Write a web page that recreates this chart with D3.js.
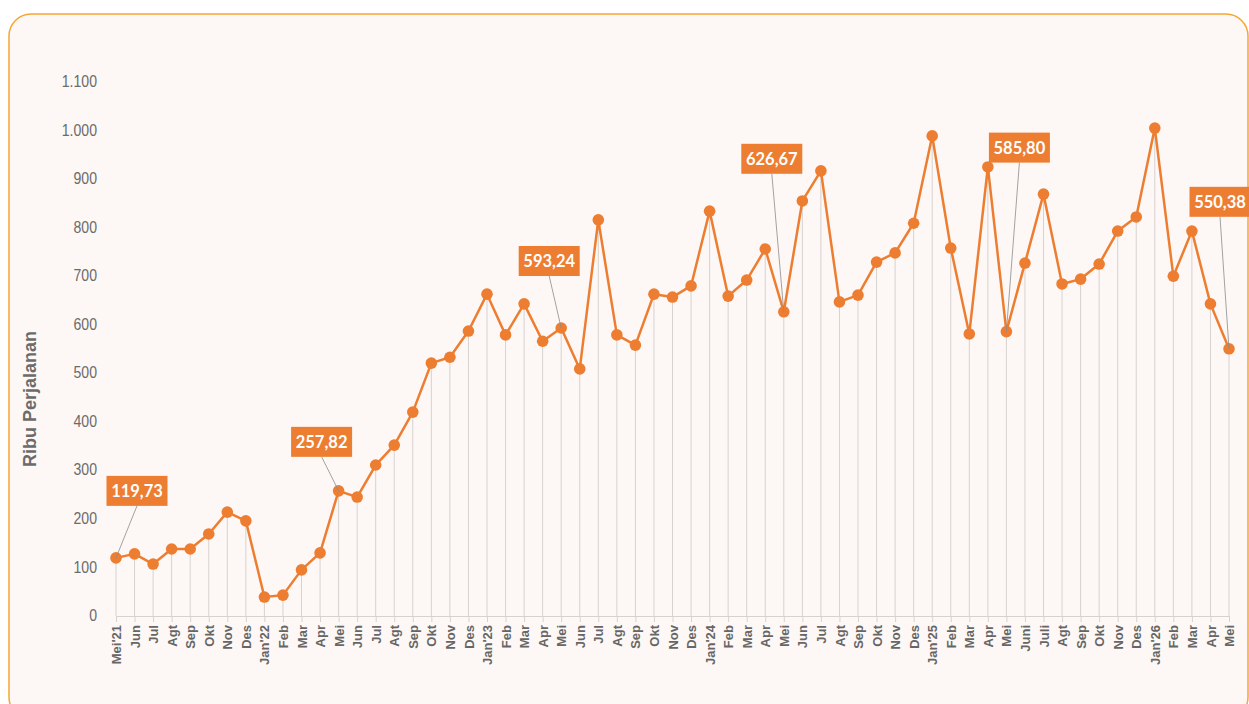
<!DOCTYPE html>
<html>
<head>
<meta charset="utf-8">
<script src="https://cdn.jsdelivr.net/npm/d3@7"></script>
<style>
    body { margin: 0; background: #ffffff; }
    svg { display: block; }
</style>
</head>
<body>
<svg></svg>
<script>
let months = [
    "Mei'21", "Jun", "Jul", "Agt", "Sep", "Okt", "Nov", "Des",
    "Jan'22", "Feb", "Mar", "Apr", "Mei", "Jun", "Jul", "Agt", "Sep", "Okt", "Nov", "Des",
    "Jan'23", "Feb", "Mar", "Apr", "Mei", "Jun", "Jul", "Agt", "Sep", "Okt", "Nov", "Des",
    "Jan'24", "Feb", "Mar", "Apr", "Mei", "Jun", "Jul", "Agt", "Sep", "Okt", "Nov", "Des",
    "Jan'25", "Feb", "Mar", "Apr", "Mei", "Juni", "Juli", "Agt", "Sep", "Okt", "Nov", "Des",
    "Jan'26", "Feb", "Mar", "Apr", "Mei"
];

let trips = [
    119.73, 128, 107, 138, 138, 169, 214, 196,
    39, 43, 95, 130, 257.82, 245, 311, 352, 420, 521, 533, 587,
    663, 579, 643, 566, 593.24, 509, 816, 579, 558, 663, 657, 680,
    834, 659, 692, 756, 626.67, 855, 917, 647, 661, 729, 748, 809,
    989, 758, 581, 925, 585.80, 727, 869, 684, 694, 725, 793, 822,
    1005, 700, 793, 643, 550.38
];

let yTicks = [0, 100, 200, 300, 400, 500, 600, 700, 800, 900, 1000, 1100];

// which points get a callout box
let labelled = [0, 12, 24, 36, 48, 60];
// box centre offset from the point (px)
let labelOffsets = [[21, -67], [-17, -49], [-12, -67], [-12, -153], [13, -184], [-9, -147]];

let width = 1249;
let height = 704;
let orange = "#ED7D31";

let svg = d3.select("svg")
    .attr("width", width)
    .attr("height", height);

// card background
svg.append("rect")
    .attr("x", 9)
    .attr("y", 14)
    .attr("width", 1239)
    .attr("height", 705)
    .attr("rx", 22)
    .attr("fill", "#FDF8F5")
    .attr("stroke", "#F7A632")
    .attr("stroke-width", 1.5);

let xScale = d3.scalePoint()
    .domain(d3.range(months.length))
    .range([116, 1229]);

let yScale = d3.scaleLinear()
    .domain([0, 1100])
    .range([616, 82]);

let fmt = d3.formatLocale({ decimal: ",", thousands: ".", grouping: [3], currency: ["", ""] });

// y axis (labels only)
let yAxis = d3.axisLeft(yScale)
    .tickValues(yTicks)
    .tickSize(0)
    .tickPadding(0)
    .tickFormat(fmt.format(",d"));

let gy = svg.append("g")
    .attr("transform", "translate(97,0)")
    .call(yAxis);
gy.select(".domain").remove();
gy.selectAll("text")
    .attr("fill", "#6b6b6b")
    .attr("transform", "scale(0.9,1)")
    .attr("x", 0)
    .style("font-family", "'Liberation Sans', Arial, sans-serif")
    .style("font-size", "16px");
gy.selectAll(".tick").attr("transform", d => `translate(0,${yScale(d)}) scale(0.88,1)`);
gy.selectAll("text").attr("transform", null);

// drop lines
svg.append("g")
    .selectAll("line")
    .data(trips)
    .enter()
    .append("line")
    .attr("x1", (d, i) => xScale(i))
    .attr("x2", (d, i) => xScale(i))
    .attr("y1", d => yScale(d))
    .attr("y2", yScale(0))
    .attr("stroke", "#d6d2cf")
    .attr("stroke-width", 1);

// x axis
let xAxis = d3.axisBottom(xScale)
    .tickSize(6)
    .tickPadding(4)
    .tickFormat(i => months[i]);

let gx = svg.append("g")
    .attr("transform", `translate(0, ${yScale(0)})`)
    .call(xAxis);
gx.select(".domain").attr("stroke", "#d6d2cf").attr("d", "M116,0.5H1230");
gx.selectAll(".tick line").attr("stroke", "#d6d2cf");
gx.selectAll(".tick text")
    .attr("fill", "#666666")
    .attr("transform", "rotate(-90)")
    .attr("text-anchor", "end")
    .attr("x", -9)
    .attr("y", 0)
    .attr("dy", "0.35em")
    .style("font-family", "'Liberation Sans', Arial, sans-serif")
    .style("font-weight", "bold")
    .style("font-size", "13px");

// y axis title
svg.append("text")
    .attr("transform", "translate(36, 399) rotate(-90)")
    .attr("text-anchor", "middle")
    .attr("fill", "#6b6b6b")
    .style("font-family", "'Liberation Sans', Arial, sans-serif")
    .style("font-weight", "bold")
    .style("font-size", "18px")
    .text("Ribu Perjalanan");

// line
let line = d3.line()
    .x((d, i) => xScale(i))
    .y(d => yScale(d));

svg.append("path")
    .datum(trips)
    .attr("d", line)
    .attr("fill", "none")
    .attr("stroke", orange)
    .attr("stroke-width", 2.5)
    .attr("stroke-linejoin", "round");

svg.append("g")
    .selectAll("circle")
    .data(trips)
    .enter()
    .append("circle")
    .attr("cx", (d, i) => xScale(i))
    .attr("cy", d => yScale(d))
    .attr("r", 5.8)
    .attr("fill", orange);

// callouts
let callouts = svg.append("g")
    .selectAll("g")
    .data(labelled)
    .enter()
    .append("g");

callouts.append("line")
    .attr("x1", (d, k) => xScale(d) + labelOffsets[k][0])
    .attr("y1", (d, k) => yScale(trips[d]) + labelOffsets[k][1] + 15)
    .attr("x2", d => xScale(d))
    .attr("y2", d => yScale(trips[d]))
    .attr("stroke", "#8c8c8c")
    .attr("stroke-width", 0.8);

callouts.append("rect")
    .attr("x", (d, k) => xScale(d) + labelOffsets[k][0] - 30.5)
    .attr("y", (d, k) => yScale(trips[d]) + labelOffsets[k][1] - 15)
    .attr("width", 61)
    .attr("height", 30)
    .attr("fill", orange);

callouts.append("text")
    .attr("x", (d, k) => xScale(d) + labelOffsets[k][0])
    .attr("y", (d, k) => yScale(trips[d]) + labelOffsets[k][1])
    .attr("dy", "0.36em")
    .attr("text-anchor", "middle")
    .attr("fill", "#ffffff")
    .style("font-family", "Lato, 'Open Sans', sans-serif")
    .style("font-weight", "bold")
    .style("font-size", "16.5px")
    .text(d => fmt.format(",.2f")(trips[d]));
</script>
</body>
</html>
